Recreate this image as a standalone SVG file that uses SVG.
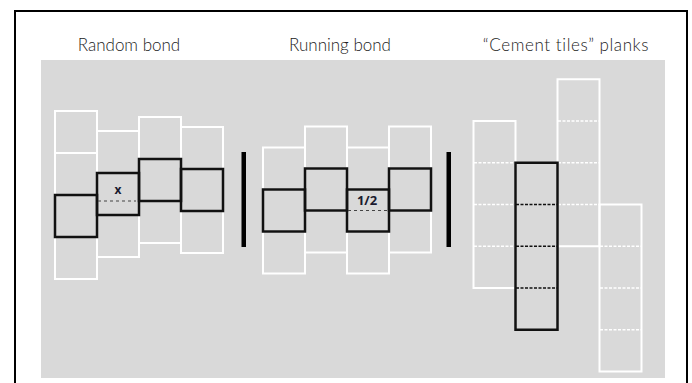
<svg xmlns="http://www.w3.org/2000/svg" width="692" height="383" viewBox="0 0 692 383">
<style>
.t{font-family:Lato,"Liberation Sans",sans-serif;font-size:17px;font-weight:300;fill:#222222;text-anchor:middle}
.w{fill:none;stroke:#ffffff;stroke-width:2}
.b{fill:none;stroke:#111111;stroke-width:2.5}
.wd{stroke:#ffffff;stroke-width:1.5;stroke-dasharray:3,1.5}
.bd{stroke:#111111;stroke-width:1.5;stroke-dasharray:3,1.5}
.gd{stroke:#444444;stroke-width:1.2;stroke-dasharray:3,3}
.lbl{font-family:"Open Sans","Liberation Sans",sans-serif;font-weight:700;fill:#1a1a2e;text-anchor:middle}
.bar{fill:#000000}
</style>
<rect x="0" y="0" width="692" height="383" fill="#ffffff"/>
<rect x="15" y="11" width="672" height="400" fill="none" stroke="#000000" stroke-width="2"/>
<rect x="41" y="60" width="624" height="318" fill="#d9d9d9"/>
<g id="titles">
<text class="t" x="129" y="51">Random bond</text>
<text class="t" x="340" y="51">Running bond</text>
<text class="t" x="566" y="51" letter-spacing="0.6">“Cement tiles” planks</text>
</g>
<g id="random-bond">
<rect class="w" x="55" y="111" width="42" height="42"/>
<rect class="w" x="55" y="153" width="42" height="42"/>
<rect class="w" x="55" y="237" width="42" height="42"/>
<rect class="w" x="97" y="131" width="42" height="42"/>
<rect class="w" x="97" y="215" width="42" height="42"/>
<rect class="w" x="139" y="117" width="42" height="42"/>
<rect class="w" x="139" y="201" width="42" height="42"/>
<rect class="w" x="181" y="127" width="42" height="42"/>
<rect class="w" x="181" y="211" width="42" height="42"/>
<rect class="b" x="55" y="195" width="42" height="42"/>
<rect class="b" x="97" y="173" width="42" height="42"/>
<rect class="b" x="139" y="159" width="42" height="42"/>
<rect class="b" x="181" y="169" width="42" height="42"/>
<line class="gd" x1="98" y1="201" x2="136" y2="201"/>
<text class="lbl" x="118" y="194" font-size="12">x</text>
</g>
<g id="bar-1"><rect class="bar" x="241.5" y="152" width="4.5" height="95"/></g>
<g id="running-bond">
<rect class="w" x="263" y="147.5" width="42" height="42"/>
<rect class="w" x="263" y="231.5" width="42" height="42"/>
<rect class="w" x="305" y="126.5" width="42" height="42"/>
<rect class="w" x="305" y="210.5" width="42" height="42"/>
<rect class="w" x="347" y="147.5" width="42" height="42"/>
<rect class="w" x="347" y="231.5" width="42" height="42"/>
<rect class="w" x="389" y="126.5" width="42" height="42"/>
<rect class="w" x="389" y="210.5" width="42" height="42"/>
<rect class="b" x="263" y="189.5" width="42" height="42"/>
<rect class="b" x="305" y="168.5" width="42" height="42"/>
<rect class="b" x="347" y="189.5" width="42" height="42"/>
<rect class="b" x="389" y="168.5" width="42" height="42"/>
<line class="gd" x1="348" y1="210.5" x2="388" y2="210.5"/>
<text class="lbl" x="367" y="205" font-size="13">1/2</text>
</g>
<g id="bar-2"><rect class="bar" x="446.5" y="152" width="4.5" height="95"/></g>
<g id="cement-tiles">
<rect class="w" x="473.5" y="121" width="42" height="167"/>
<line class="wd" x1="474" y1="162.75" x2="515" y2="162.75"/>
<line class="wd" x1="474" y1="204.5" x2="515" y2="204.5"/>
<line class="wd" x1="474" y1="246.25" x2="515" y2="246.25"/>
<rect class="w" x="557.5" y="79.25" width="42" height="167"/>
<line class="wd" x1="558" y1="121" x2="599" y2="121"/>
<line class="wd" x1="558" y1="162.75" x2="599" y2="162.75"/>
<line class="wd" x1="558" y1="204.5" x2="599" y2="204.5"/>
<rect class="w" x="599.5" y="204.5" width="42" height="167"/>
<line class="wd" x1="600" y1="246.25" x2="641" y2="246.25"/>
<line class="wd" x1="600" y1="288" x2="641" y2="288"/>
<line class="wd" x1="600" y1="329.75" x2="641" y2="329.75"/>
<rect class="b" x="515.5" y="162.75" width="42" height="167"/>
<line class="bd" x1="516" y1="204.5" x2="557" y2="204.5"/>
<line class="bd" x1="516" y1="246.25" x2="557" y2="246.25"/>
<line class="bd" x1="516" y1="288" x2="557" y2="288"/>
</g>
</svg>
